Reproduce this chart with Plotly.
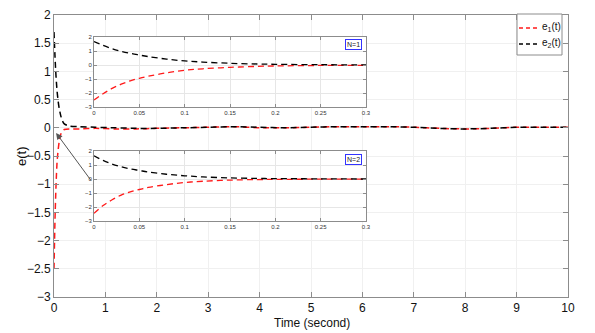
import plotly.graph_objects as go

# ---------------- data ----------------
t_main = [0, 0.02, 0.04, 0.06, 0.08, 0.10, 0.13, 0.16, 0.20, 0.30, 0.50, 0.80, 1.2, 1.6, 2.0,
          2.5, 3.0, 3.5, 4.0, 4.5, 5.0, 5.5, 6.0, 6.5, 7.0, 7.5, 8.0, 8.5, 9.0, 9.5, 10.0]
e1_main = [-2.50, -1.60, -1.00, -0.60, -0.40, -0.25, -0.12, -0.06, -0.03, -0.02, -0.02, -0.01,
           -0.02, -0.02, -0.01, 0.00, 0.01, 0.02, 0.00, 0.00, 0.01, 0.02, 0.02, 0.02, 0.01,
           -0.01, -0.02, -0.01, 0.01, 0.01, 0.01]
e2_main = [1.70, 1.25, 0.90, 0.65, 0.48, 0.35, 0.22, 0.13, 0.07, 0.03, 0.02, 0.01, 0.00,
           -0.01, -0.01, 0.00, 0.01, 0.02, 0.01, 0.00, 0.01, 0.02, 0.02, 0.02, 0.01, -0.01,
           -0.02, -0.01, 0.01, 0.01, 0.01]

t_inset = [0, 0.01, 0.02, 0.03, 0.04, 0.05, 0.06, 0.08, 0.10, 0.12, 0.15, 0.18, 0.20, 0.25, 0.30]
e1_n1 = [-2.50, -2.05, -1.67, -1.37, -1.13, -0.95, -0.80, -0.56, -0.38, -0.27, -0.17, -0.10,
         -0.07, -0.03, -0.02]
e2_n1 = [1.68, 1.40, 1.17, 0.98, 0.83, 0.71, 0.60, 0.42, 0.29, 0.21, 0.12, 0.07, 0.05, 0.02, 0.01]
e1_n2 = [-2.45, -1.90, -1.48, -1.15, -0.92, -0.75, -0.60, -0.40, -0.25, -0.16, -0.08, -0.04,
         -0.03, -0.01, -0.01]
e2_n2 = [1.66, 1.33, 1.07, 0.87, 0.72, 0.61, 0.50, 0.34, 0.23, 0.15, 0.08, 0.04, 0.03, 0.01, 0.00]

series_names = ["e<sub>1</sub>(t)", "e<sub>2</sub>(t)"]
main_xticks = list(range(0, 11))
main_yticks = [2, 1.5, 1, 0.5, 0, -0.5, -1, -1.5, -2, -2.5, -3]
inset_xticks = [0, 0.05, 0.1, 0.15, 0.2, 0.25, 0.3]
inset_xlabels = ["0", "0.05", "0.1", "0.15", "0.2", "0.25", "0.3"]
inset_yticks = [-3, -2, -1, 0, 1, 2]

RED = "#ff1a1a"
BLK = "#000000"
DASH = "6px,4px"

# page body has an 8px margin; figure is sized so it ends at the window edge
OFF = 8
W, H = 595 - OFF, 333 - OFF

def px_x(p):
    return (p - OFF) / W

def px_y(p):
    return 1 - (p - OFF) / H

fig = go.Figure()

colors = [RED, BLK]
for name, ys, c in zip(series_names, [e1_main, e2_main], colors):
    fig.add_trace(go.Scatter(x=t_main, y=ys, mode="lines", name=name, showlegend=False,
                             line=dict(color=c, width=1.5, dash=DASH, shape="spline",
                                       smoothing=0.6),
                             xaxis="x", yaxis="y"))
for ys, c in zip([e1_n1, e2_n1], colors):
    fig.add_trace(go.Scatter(x=t_inset, y=ys, mode="lines", showlegend=False,
                             line=dict(color=c, width=1.3, dash=DASH, shape="spline"),
                             xaxis="x2", yaxis="y2"))
for ys, c in zip([e1_n2, e2_n2], colors):
    fig.add_trace(go.Scatter(x=t_inset, y=ys, mode="lines", showlegend=False,
                             line=dict(color=c, width=1.3, dash=DASH, shape="spline"),
                             xaxis="x3", yaxis="y3"))

AX = "#8c8c8c"
GRID = "#f0f0f0"
FONT = "Liberation Sans, Arial, sans-serif"

main_x_dom = [px_x(54), px_x(568)]
main_y_dom = [px_y(297), px_y(15)]
in_x_dom = [px_x(94), px_x(366)]
in1_y_dom = [px_y(107), px_y(37)]
in2_y_dom = [px_y(221), px_y(151)]

def inset_axes(anchor_x, anchor_y, xdom, ydom):
    xa = dict(domain=xdom, anchor=anchor_y, range=[0, 0.3], tickvals=inset_xticks,
              ticktext=inset_xlabels, ticks="inside", ticklen=3, tickcolor=AX,
              showline=True, linecolor=AX, linewidth=1, mirror="ticks",
              showgrid=True, gridcolor="#e6e6e6", gridwidth=1, zeroline=False,
              automargin=False, tickfont=dict(size=6, color="#333", family=FONT))
    ya = dict(domain=ydom, anchor=anchor_x, range=[-3, 2], tickvals=inset_yticks,
              ticks="inside", ticklen=3, tickcolor=AX,
              showline=True, linecolor=AX, linewidth=1, mirror="ticks",
              showgrid=True, gridcolor="#e6e6e6", gridwidth=1, zeroline=False,
              automargin=False, tickfont=dict(size=6, color="#333", family=FONT))
    return xa, ya

x2, y2 = inset_axes("x2", "y2", in_x_dom, in1_y_dom)
x3, y3 = inset_axes("x3", "y3", in_x_dom, in2_y_dom)

fig.update_layout(
    width=W, height=H,
    margin=dict(l=0, r=0, t=0, b=0, autoexpand=False),
    paper_bgcolor="white", plot_bgcolor="white",
    font=dict(family=FONT, color="#111"),
    showlegend=False,
    xaxis=dict(domain=main_x_dom, anchor="y", range=[0, 10], tickvals=main_xticks,
               ticks="inside", ticklen=5, tickcolor=AX, showline=True, linecolor=AX,
               linewidth=1, mirror="ticks", showgrid=True, gridcolor=GRID, zeroline=False,
               automargin=False, tickfont=dict(size=12, color="#111")),
    yaxis=dict(domain=main_y_dom, anchor="x", range=[-3, 2], tickvals=main_yticks,
               ticks="inside", ticklen=5, tickcolor=AX, showline=True, linecolor=AX,
               linewidth=1, mirror="ticks", showgrid=True, gridcolor=GRID, zeroline=False,
               automargin=False, tickfont=dict(size=12, color="#111")),
    xaxis2=x2, yaxis2=y2, xaxis3=x3, yaxis3=y3,
)

# axis titles
fig.add_annotation(xref="paper", yref="paper", x=px_x(312), y=px_y(323),
                   text="Time (second)", showarrow=False, font=dict(size=12, color="#111"),
                   xanchor="center", yanchor="middle")
fig.add_annotation(xref="paper", yref="paper", x=px_x(21), y=px_y(156),
                   text="e(t)", showarrow=False, textangle=-90,
                   font=dict(size=13, color="#111"), xanchor="center", yanchor="middle")

# legend box (drawn manually to match the compact MATLAB legend)
fig.add_shape(type="rect", xref="paper", yref="paper",
              x0=px_x(517), x1=px_x(562), y0=px_y(55), y1=px_y(14),
              line=dict(color=AX, width=1), fillcolor="white", layer="above")
for name, c, yy in zip(series_names, colors, [28, 44]):
    fig.add_shape(type="line", xref="paper", yref="paper",
                  x0=px_x(519), x1=px_x(539), y0=px_y(yy), y1=px_y(yy),
                  line=dict(color=c, width=1.3, dash="4px,3px"), layer="above")
    fig.add_annotation(xref="paper", yref="paper", x=px_x(540), y=px_y(yy - 1),
                       text=name, showarrow=False, font=dict(size=10, color="#111"),
                       xanchor="left", yanchor="middle")

# N labels
for txt, yy in [("N=1", 44.5), ("N=2", 159.5)]:
    fig.add_annotation(xref="paper", yref="paper", x=px_x(353), y=px_y(yy), text=txt,
                       showarrow=False, font=dict(size=7, color="#222"),
                       bordercolor="#3333ff", borderwidth=1, borderpad=1,
                       bgcolor="white", xanchor="center", yanchor="middle")

# arrow (tail offset in pixels from the head)
fig.add_annotation(xref="x", yref="y", x=0.04, y=-0.09, ax=36, ay=49,
                   showarrow=True, arrowhead=2, arrowsize=1.3, arrowwidth=1,
                   arrowcolor="#555", text="")

fig.write_html("out.html")
